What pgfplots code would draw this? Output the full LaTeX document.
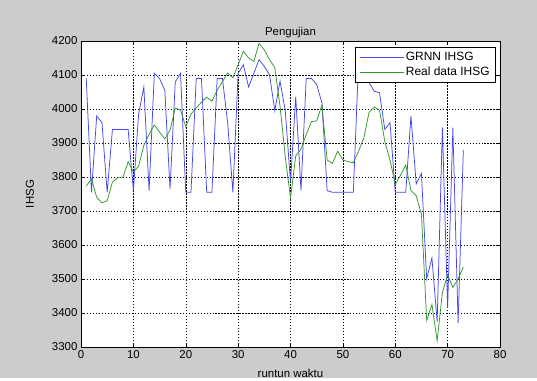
\documentclass[border=0pt]{standalone}
\usepackage{pgfplots}
\pgfplotsset{compat=1.18}
\usepackage{fontspec}
\setmainfont{Liberation Sans}
\definecolor{figbg}{RGB}{204,204,204}
\definecolor{mblue}{RGB}{70,70,235}
\definecolor{mgreen}{RGB}{50,150,50}
\begin{document}
\begin{tikzpicture}
\fill[figbg] (0,0) rectangle (537bp,378bp);
\begin{axis}[
  at={(81bp,31bp)}, anchor=south west,
  scale only axis, width=419bp, height=306bp,
  xmin=0, xmax=80, ymin=3300, ymax=4200,
  xtick={0,10,...,80}, ytick={3300,3400,...,4200},
  axis background/.style={fill=white},
  axis line style={black, line width=0.5pt},
  tick align=inside, major tick length=4bp,
  tick style={black, line width=0.5pt},
  grid=major,
  major grid style={black, line width=0.4pt, dash pattern=on 1.5pt off 1.5pt},
  font=\fontsize{11.5}{13}\selectfont,
  /pgf/number format/assume math mode=true,
  /pgf/number format/1000 sep={},
  ticklabel style={font=\fontsize{11.5}{13}\selectfont},
  title={Pengujian},
  title style={at={(axis description cs:0.5,1.008)}, anchor=center},
  xlabel={runtun waktu},
  xlabel style={at={(axis description cs:0.5,-0.086)}, anchor=center},
  ylabel={IHSG},
  ylabel style={at={(axis description cs:-0.122,0.5)}, anchor=center},
  legend style={at={(0.99,0.98)}, anchor=north east, draw=black, fill=white,
    font=\fontsize{12}{14}\selectfont, row sep=1pt, inner xsep=4pt, inner ysep=3pt},
  legend cell align=left,
  legend image code/.code={\draw[#1] (0bp,0bp) -- (44bp,0bp);},
]
\addplot[mblue, line width=0.75pt] coordinates {
(1,4090) (2,3755) (3,3980) (4,3960) (5,3755) (6,3940) (7,3940) (8,3940) (9,3940) (10,3760)
(11,3985) (12,4065) (13,3760) (14,4105) (15,4090) (16,4055) (17,3765) (18,4080) (19,4105) (20,3755)
(21,3755) (22,4090) (23,4090) (24,3755) (25,3755) (26,4090) (27,4090) (28,3960) (29,3755) (30,4105)
(31,4130) (32,4065) (33,4105) (34,4145) (35,4125) (36,4100) (37,3995) (38,4082) (39,3995) (40,3785)
(41,4036) (42,3760) (43,4090) (44,4090) (45,4072) (46,4018) (47,3760) (48,3755) (49,3755) (50,3755)
(51,3755) (52,3755) (53,4140) (54,4150) (55,4078) (56,4052) (57,4048) (58,3940) (59,3960) (60,3755)
(61,3755) (62,3755) (63,3980) (64,3780) (65,3810) (66,3500) (67,3562) (68,3375) (69,3945) (70,3415)
(71,3945) (72,3370) (73,3880)
};
\addlegendentry{GRNN IHSG}
\addplot[mgreen, line width=0.75pt] coordinates {
(1,3773) (2,3795) (3,3740) (4,3724) (5,3730) (6,3785) (7,3798) (8,3798) (9,3845) (10,3815)
(11,3832) (12,3893) (13,3925) (14,3953) (15,3932) (16,3912) (17,3938) (18,4003) (19,3997) (20,3948)
(21,3985) (22,4003) (23,4020) (24,4035) (25,4023) (26,4055) (27,4080) (28,4106) (29,4092) (30,4130)
(31,4170) (32,4150) (33,4140) (34,4193) (35,4174) (36,4145) (37,4122) (38,4008) (39,3860) (40,3738)
(41,3862) (42,3882) (43,3925) (44,3963) (45,3965) (46,4012) (47,3850) (48,3840) (49,3876) (50,3850)
(51,3845) (52,3842) (53,3876) (54,3915) (55,3990) (56,4006) (57,3996) (58,3905) (59,3850) (60,3778)
(61,3805) (62,3835) (63,3760) (64,3745) (65,3690) (66,3378) (67,3425) (68,3318) (69,3460) (70,3512)
(71,3475) (72,3500) (73,3535)
};
\addlegendentry{Real data IHSG}
\end{axis}
\end{tikzpicture}
\end{document}
